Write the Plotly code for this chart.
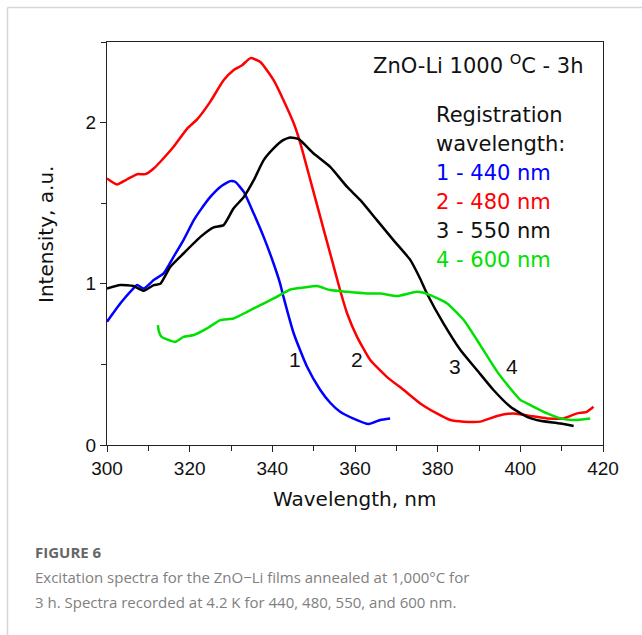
import plotly.graph_objects as go

# ---- data ----
blue_x = [300, 303.2, 306.0, 307.3, 308.9, 311.3, 313.7, 316.1, 318.5, 321.0, 322.6, 325.0, 327.4, 329.8, 331.0, 333.1, 335.5, 337.9, 340.3, 341.9, 342.7, 345.2, 348.4, 351.6, 354.0, 356.4, 359.5, 363.3, 366.1, 368.5]
blue_y = [0.765, 0.878, 0.961, 0.992, 0.971, 1.023, 1.064, 1.167, 1.271, 1.395, 1.457, 1.539, 1.601, 1.637, 1.633, 1.570, 1.436, 1.291, 1.126, 1.0, 0.919, 0.69, 0.485, 0.341, 0.262, 0.206, 0.165, 0.13, 0.155, 0.165]

red_x = [300, 302.4, 304.8, 307.3, 309.3, 311.3, 312.9, 316.1, 319.4, 321.8, 325, 328.2, 330.6, 332.7, 334.7, 337.1, 340.3, 342.7, 345.2, 346.8, 349.2, 351.6, 352.8, 354.4, 356.4, 358.1, 360.5, 363.7, 367.7, 371.8, 375.8, 379.8, 383.1, 386.3, 390.3, 394.4, 398.4, 402.4, 406.5, 410.5, 413.7, 416.1, 417.7]
red_y = [1.653, 1.616, 1.647, 1.680, 1.68, 1.715, 1.757, 1.85, 1.963, 2.02, 2.13, 2.263, 2.325, 2.356, 2.40, 2.376, 2.263, 2.139, 1.994, 1.870, 1.643, 1.415, 1.30, 1.15, 0.96, 0.816, 0.671, 0.527, 0.423, 0.341, 0.258, 0.196, 0.155, 0.145, 0.145, 0.18, 0.196, 0.18, 0.165, 0.165, 0.196, 0.206, 0.237]

black_x = [300, 303.2, 306.4, 308.9, 311.3, 312.9, 315.3, 318.5, 322.6, 325.8, 328.2, 330.6, 333.1, 335.5, 337.9, 340.3, 342.5, 344.4, 346.4, 350.0, 354.0, 358.1, 361.3, 365.3, 369.3, 373.4, 375.8, 377.4, 381.4, 385.5, 389.5, 393.5, 397.6, 401.6, 404.8, 409.7, 412.9]
black_y = [0.971, 0.992, 0.986, 0.957, 0.992, 1.0, 1.105, 1.188, 1.291, 1.35, 1.364, 1.467, 1.539, 1.643, 1.767, 1.84, 1.89, 1.908, 1.897, 1.808, 1.725, 1.601, 1.519, 1.395, 1.271, 1.147, 1.03, 0.94, 0.754, 0.589, 0.465, 0.341, 0.237, 0.175, 0.151, 0.134, 0.118]

green_x = [312.3, 312.6, 313.2, 316.5, 318.5, 321, 324.2, 327.4, 330.6, 333.9, 337.1, 340.3, 344.4, 347.6, 350.8, 354.0, 358.1, 362.9, 366.1, 370.2, 375, 378.2, 382.3, 386.3, 390.3, 394.4, 397.6, 400, 402.4, 406.5, 409.7, 412.9, 416.9]
green_y = [0.744, 0.70, 0.671, 0.64, 0.671, 0.682, 0.723, 0.775, 0.785, 0.826, 0.868, 0.909, 0.965, 0.977, 0.986, 0.961, 0.95, 0.94, 0.94, 0.924, 0.95, 0.93, 0.878, 0.775, 0.62, 0.455, 0.35, 0.28, 0.248, 0.196, 0.165, 0.155, 0.165]

curve_labels = ["1", "2", "3", "4"]
curve_label_x = [345.6, 360.5, 384.3, 398.0]
curve_label_y = [0.53, 0.53, 0.49, 0.49]

legend_lines = ["Registration", "wavelength:", "1 - 440 nm", "2 - 480 nm", "3 - 550 nm", "4 - 600 nm"]
legend_colors = ["#111111", "#111111", "#0000ff", "#ff0000", "#111111", "#00e000"]

# ---- figure ----
W, H = 642, 635
L, R, T, B = 107, 603, 42, 445

fig = go.Figure()
series = [(blue_x, blue_y, "#0000ff"), (red_x, red_y, "#ff0000"),
          (black_x, black_y, "#000000"), (green_x, green_y, "#00e000")]
for xs, ys, c in series:
    fig.add_trace(go.Scatter(x=xs, y=ys, mode="lines",
                             line=dict(color=c, width=2.5, shape="spline", smoothing=0.5),
                             showlegend=False))

def px2paper_x(px):
    return (px - L) / (R - L)

def px2paper_y(py):
    return (B - py) / (B - T)

TXT = "DejaVu Sans"
ann = []
for t, x, y in zip(curve_labels, curve_label_x, curve_label_y):
    ann.append(dict(x=x, y=y, xref="x", yref="y", text=t, showarrow=False,
                    font=dict(family="Liberation Sans", size=21, color="#111111")))

ann.append(dict(x=px2paper_x(586), y=px2paper_y(64), xref="paper", yref="paper",
                text="ZnO-Li 1000 <sup>O</sup>C - 3h", showarrow=False,
                xanchor="right", yanchor="middle",
                font=dict(family=TXT, size=21, color="#111111")))

for i, (t, c) in enumerate(zip(legend_lines, legend_colors)):
    ann.append(dict(x=px2paper_x(434), y=px2paper_y(115 + i * 29), xref="paper", yref="paper",
                    text=t, showarrow=False, xanchor="left", yanchor="middle",
                    font=dict(family=TXT, size=21, color=c)))

# axis titles
ann.append(dict(x=px2paper_x(355), y=px2paper_y(499), xref="paper", yref="paper",
                text="Wavelength, nm", showarrow=False, xanchor="center", yanchor="middle",
                font=dict(family=TXT, size=20, color="#111111")))
ann.append(dict(x=px2paper_x(46), y=px2paper_y(235), xref="paper", yref="paper",
                text="Intensity, a.u.", showarrow=False, xanchor="center", yanchor="middle",
                textangle=-90, font=dict(family=TXT, size=20, color="#111111")))

ann.append(dict(x=px2paper_x(33), y=px2paper_y(552), xref="paper", yref="paper",
                text="<b>FIGURE 6</b>", showarrow=False, xanchor="left", yanchor="middle",
                font=dict(family="Open Sans", size=15, color="#666666")))
cap = ["Excitation spectra for the ZnO\u2212Li films annealed at 1,000\u00b0C for",
       "3 h. Spectra recorded at 4.2 K for 440, 480, 550, and 600 nm."]
for i, t in enumerate(cap):
    ann.append(dict(x=px2paper_x(33), y=px2paper_y(577 + i * 25), xref="paper", yref="paper",
                    text=t, showarrow=False, xanchor="left", yanchor="middle",
                    font=dict(family="Open Sans", size=15, color="#808080")))

shapes = [
    dict(type="line", xref="paper", yref="paper",
         x0=px2paper_x(7.5), x1=px2paper_x(660), y0=px2paper_y(7.5), y1=px2paper_y(7.5),
         line=dict(color="#d6d6d6", width=1.5)),
    dict(type="line", xref="paper", yref="paper",
         x0=px2paper_x(7.5), x1=px2paper_x(7.5), y0=px2paper_y(7.5), y1=px2paper_y(660),
         line=dict(color="#d6d6d6", width=1.5)),
]

axis_font = dict(family="Liberation Sans", size=19, color="#111111")
fig.update_layout(
    width=W, height=H,
    margin=dict(l=L, r=W - R, t=T, b=H - B, pad=0),
    paper_bgcolor="white", plot_bgcolor="white",
    annotations=ann, shapes=shapes,
    xaxis=dict(range=[300, 420], dtick=20, tick0=300, ticks="outside", ticklen=6,
               tickwidth=1.3, tickcolor="#222", showline=True, linecolor="#222",
               linewidth=1.3, mirror=True, showgrid=False, zeroline=False,
               tickfont=axis_font,
               minor=dict(dtick=10, ticks="outside", ticklen=5, tickcolor="#222", showgrid=False)),
    yaxis=dict(range=[0, 2.5], dtick=1, tick0=0, ticks="outside", ticklen=6,
               tickwidth=1.3, tickcolor="#222", showline=True, linecolor="#222",
               linewidth=1.3, mirror=True, showgrid=False, zeroline=False,
               tickfont=axis_font,
               minor=dict(dtick=0.5, ticks="outside", ticklen=5, tickcolor="#222", showgrid=False)),
)

fig.write_html("out.html")
